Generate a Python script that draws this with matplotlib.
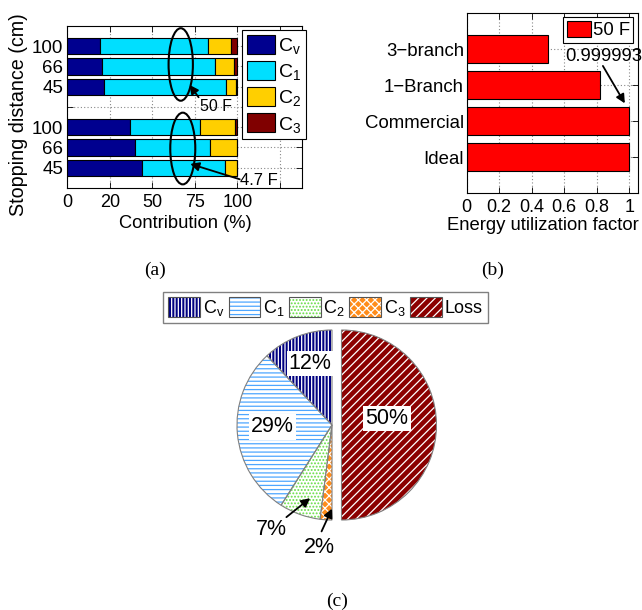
import matplotlib
matplotlib.use('Agg')
import matplotlib.pyplot as plt
from matplotlib.patches import Ellipse, Patch, Wedge

plt.rcParams['font.family'] = ['Liberation Sans', 'DejaVu Sans']
plt.rcParams['hatch.linewidth'] = 0.9

# ---------------- data ----------------
# (a) share of each component, rows top to bottom: 50 F (100, 66, 45 cm), 4.7 F (100, 66, 45 cm)
row_pos = [1, 2, 3, 5, 6, 7]
dist_tick_pos = [1, 2, 3, 4, 5, 6, 7]
dist_tick_labels = ['100', '66', '45', '', '100', '66', '45']
cv_share = [19.3, 20.3, 21.8, 36.9, 39.9, 44.0]
c1_share = [63.2, 66.3, 71.5, 40.9, 43.8, 48.7]
c2_share = [13.6, 11.2, 5.7, 20.6, 16.3, 7.3]
c3_share = [3.9, 2.2, 1.0, 1.6, 0.0, 0.0]
component_labels = [r'$\mathregular{C_v}$', r'$\mathregular{C_1}$',
                    r'$\mathregular{C_2}$', r'$\mathregular{C_3}$']
component_colors = ['#00008F', '#00DFFF', '#FFCF00', '#800000']
contrib_ticks = [0, 25, 50, 75, 100, 125]
contrib_tick_labels = ['0', '20', '50', '75', '100', '']
capacitor_labels = ['50 F', '4.7 F']

# (b) energy utilization factor
methods = ['3\u2212branch', '1\u2212Branch', 'Commercial', 'Ideal']
utilization = [0.5, 0.82, 0.999993, 1.0]
util_ticks = [0, 0.2, 0.4, 0.6, 0.8, 1.0]
util_tick_labels = ['0', '0.2', '0.4', '0.6', '0.8', '1']

# (c) energy breakdown
pie_labels = [r'$\mathregular{C_v}$', r'$\mathregular{C_1}$', r'$\mathregular{C_2}$',
              r'$\mathregular{C_3}$', 'Loss']
pie_shares = [12, 29, 7, 2, 50]
pie_explode = [0, 0, 0, 0, 0.1]
pie_faces = ['#000080', 'white', 'white', '#FF8C1A', '#8B0000']
pie_hatch_colors = ['white', '#4DA6FF', '#66DD44', 'white', 'white']
pie_hatches = ['|||||', '----', '.....', 'xxxx', '////']

# ---------------- figure ----------------
W, H = 642, 610
fig = plt.figure(figsize=(W / 100, H / 100), dpi=100)


def fbox(l, t, r, b):
    return [l / W, 1 - b / H, (r - l) / W, (b - t) / H]


grid_kw = dict(linestyle=(0, (1, 2)), color='#888888', linewidth=0.8)
arrow_kw = dict(arrowstyle='-|>', color='black', lw=1.3, mutation_scale=13, shrinkA=0, shrinkB=0)

# ---------- (a) ----------
ax = fig.add_axes(fbox(67.3, 26, 302, 188))
left = [0.0] * len(row_pos)
bars_a = []
for vals, col in zip([cv_share, c1_share, c2_share, c3_share], component_colors):
    b = ax.barh(row_pos, vals, left=left, height=0.8, color=col,
                edgecolor='black', linewidth=0.8)
    bars_a.append(b)
    left = [l + v for l, v in zip(left, vals)]
ax.set_xlim(0, 138)
ax.set_ylim(8, 0)
ax.set_xticks(contrib_ticks)
ax.set_xticklabels(contrib_tick_labels)
ax.set_yticks(dist_tick_pos)
ax.set_yticklabels(dist_tick_labels)
ax.set_axisbelow(True)
ax.grid(True, **grid_kw)
ax.tick_params(direction='in', top=True, right=True, length=4, width=0.6)
ax.tick_params(axis='x', labelsize=13, pad=4)
ax.tick_params(axis='y', labelsize=13.5, pad=3)
for s in ax.spines.values():
    s.set_linewidth(0.8)

ax.add_patch(Ellipse((66.7, 1.9), 14.3, 3.58, fill=False, edgecolor='black', lw=1.5))
ax.add_patch(Ellipse((67.9, 6.05), 14.7, 3.54, fill=False, edgecolor='black', lw=1.5))
ax.annotate('', xy=(71.9, 2.91), xytext=(77.2, 3.52), arrowprops=arrow_kw)
ax.text(77.8, 3.98, capacitor_labels[0], fontsize=11.5, ha='left', va='center')
ax.annotate('', xy=(72.3, 6.81), xytext=(101.4, 7.57), arrowprops=arrow_kw)
ax.text(101.7, 7.65, capacitor_labels[1], fontsize=12, ha='left', va='center', clip_on=False)

leg_a = ax.legend([b[0] for b in bars_a], component_labels, loc='upper left',
                  bbox_to_anchor=(242 / W, 1 - 30 / H), bbox_transform=fig.transFigure,
                  fontsize=14, handlelength=1.44, handleheight=1.13, labelspacing=0.26,
                  handletextpad=0.15, borderpad=0.25, borderaxespad=0,
                  fancybox=False, framealpha=1, edgecolor='black')
leg_a.get_frame().set_linewidth(0.8)

fig.text(185 / W, 1 - 223 / H, 'Contribution (%)', fontsize=13.2, ha='center', va='center')
fig.text(19 / W, 1 - 114.5 / H, 'Stopping distance (cm)', fontsize=14.2,
         ha='center', va='center', rotation=90)

# ---------- (b) ----------
bx = fig.add_axes(fbox(466.7, 13, 638, 193))
bar_b = bx.barh([1, 2, 3, 4], utilization, height=0.8, color='#FF0000',
                edgecolor='black', linewidth=0.8, label='50 F')
bx.set_xlim(0, 1.054)
bx.set_ylim(5, 0)
bx.set_xticks(util_ticks)
bx.set_xticklabels(util_tick_labels)
bx.set_yticks([1, 2, 3, 4])
bx.set_yticklabels(methods)
bx.set_axisbelow(True)
bx.grid(True, **grid_kw)
bx.tick_params(direction='in', top=True, right=True, length=4, width=0.6)
bx.tick_params(axis='x', labelsize=13, pad=4)
bx.tick_params(axis='y', labelsize=13.4, pad=2)
for s in bx.spines.values():
    s.set_linewidth(0.8)
bx.annotate('', xy=(0.973, 2.51), xytext=(0.838, 1.47), arrowprops=arrow_kw)
bx.text(0.604, 1.21, str(utilization[2]), fontsize=13.3, ha='left', va='center', clip_on=False)
leg_b = bx.legend(loc='upper left', bbox_to_anchor=(563 / W, 1 - 17 / H),
                  bbox_transform=fig.transFigure, fontsize=13.3, handlelength=1.3,
                  handleheight=0.95, handletextpad=0.1, borderpad=0.2, borderaxespad=0,
                  fancybox=False, framealpha=1, edgecolor='black')
leg_b.get_frame().set_linewidth(0.8)
fig.text(542.7 / W, 1 - 225 / H, 'Energy utilization factor', fontsize=13.3,
         ha='center', va='center')

# ---------- (c) ----------
R = 95
cx = fig.add_axes(fbox(332 - 1.1 * R, 425 - 1.1 * R, 332 + 1.1 * R, 425 + 1.1 * R))
wedges, _ = cx.pie(pie_shares, explode=pie_explode, startangle=90, counterclock=True,
                   colors=pie_faces, wedgeprops=dict(edgecolor='none', linewidth=0))
for w, hc, h in zip(wedges, pie_hatch_colors, pie_hatches):
    cx.add_patch(Wedge(w.center, w.r, w.theta1, w.theta2, facecolor='none',
                       edgecolor=hc, hatch=h, linewidth=0))
    cx.add_patch(Wedge(w.center, w.r, w.theta1, w.theta2, facecolor='none',
                       edgecolor='#808080', linewidth=0.8))
cx.set_xlim(-1.1, 1.1)
cx.set_ylim(-1.1, 1.1)
cx.set_aspect('equal')
cx.axis('off')

box_kw = dict(facecolor='white', edgecolor='none', pad=1.5)
pct_size = 15.5
cx.text(-0.23, 0.65, f'{pie_shares[0]}%', fontsize=pct_size, ha='center', va='center', bbox=box_kw)
cx.text(-0.63, -0.02, f'{pie_shares[1]}%', fontsize=pct_size, ha='center', va='center', bbox=box_kw)
cx.text(0.58, 0.07, f'{pie_shares[4]}%', fontsize=pct_size, ha='center', va='center', bbox=box_kw)
cx.annotate('', xy=(-0.23, -0.77), xytext=(-0.48, -0.97), arrowprops=arrow_kw)
cx.text(-0.64, -1.10, f'{pie_shares[2]}%', fontsize=pct_size, ha='center', va='center', clip_on=False)
cx.annotate('', xy=(0.0, -0.88), xytext=(-0.11, -1.12), arrowprops=arrow_kw)
cx.text(-0.13, -1.29, f'{pie_shares[3]}%', fontsize=pct_size, ha='center', va='center', clip_on=False)

pie_handles = []
for fc, hc, h in zip(pie_faces, pie_hatch_colors, pie_hatches):
    pie_handles.append((Patch(facecolor=fc, edgecolor='none', linewidth=0),
                        Patch(facecolor='none', edgecolor=hc, hatch=h, linewidth=0),
                        Patch(facecolor='none', edgecolor='#555555', linewidth=0.8)))
leg_c = fig.legend(pie_handles, pie_labels, loc='upper left',
                   bbox_to_anchor=(163 / W, 1 - 292 / H), ncol=5, fontsize=13,
                   handlelength=1.75, handleheight=1.25, handletextpad=0.15,
                   columnspacing=0.25, borderpad=0.3, borderaxespad=0,
                   fancybox=False, framealpha=1, edgecolor='#808080')
leg_c.get_frame().set_linewidth(1.0)

# ---------- captions ----------
cap_kw = dict(fontsize=14, ha='center', va='center', family='Liberation Serif')
fig.text(155 / W, 1 - 270 / H, '(a)', **cap_kw)
fig.text(493 / W, 1 - 270 / H, '(b)', **cap_kw)
fig.text(337 / W, 1 - 601 / H, '(c)', **cap_kw)

fig.savefig('out.png', dpi=100)
